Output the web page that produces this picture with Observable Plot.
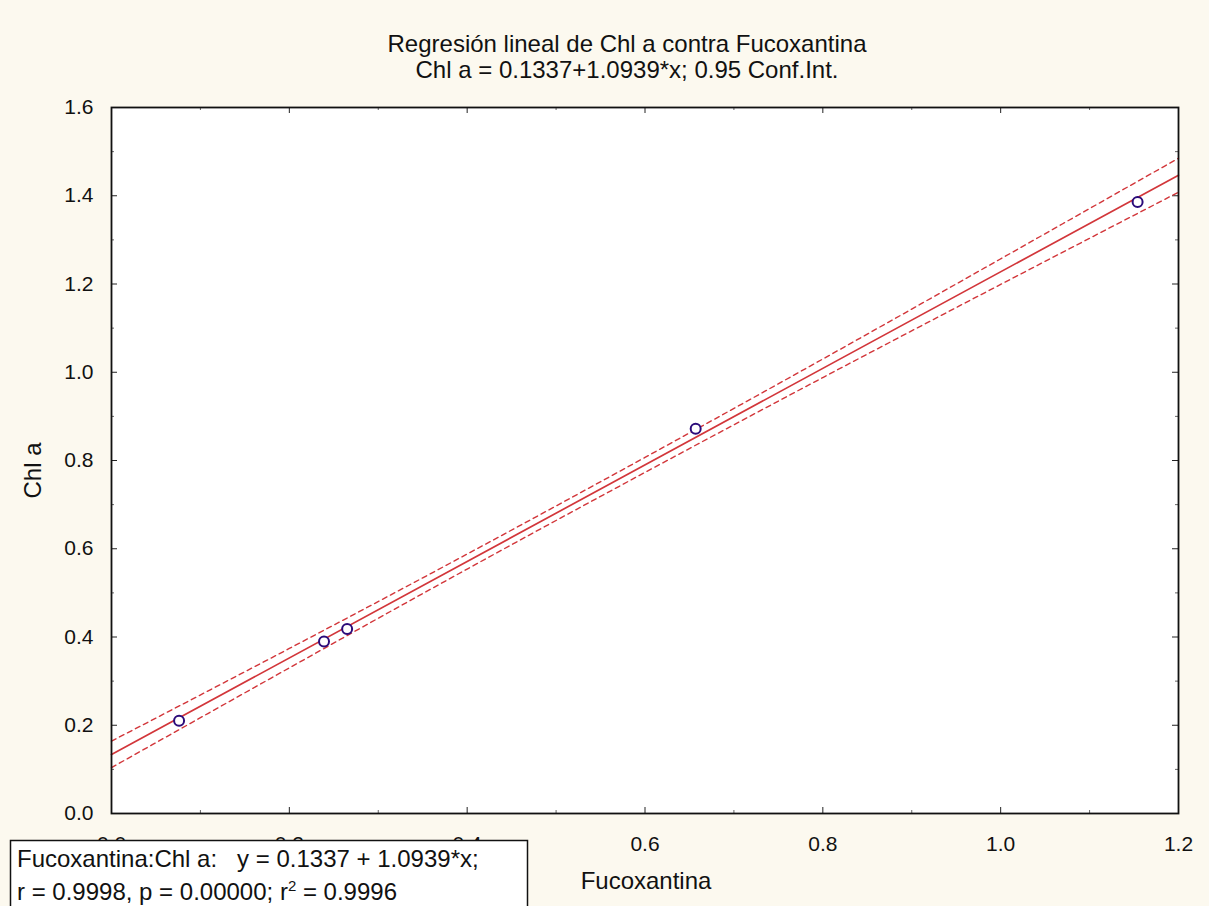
<!DOCTYPE html>
<html><head><meta charset="utf-8">
<script src="https://cdn.jsdelivr.net/npm/d3@7"></script>
<script src="https://cdn.jsdelivr.net/npm/@observablehq/plot@0.6"></script>
<style>body{margin:0;background:#fcf9ef;overflow:hidden}</style>
</head><body><div id="chart"></div>
<script>
// data
const fucoxantina = [0.076, 0.239, 0.265, 0.657, 1.154];
const chlA = [0.210, 0.390, 0.418, 0.872, 1.386];
const fitX = [0, 1.2];
const fitY = [0.1337, 1.4464];
const bandX = [0, 0.2, 0.4, 0.6, 0.8, 1.0, 1.2];
const bandUpper = [0.164, 0.374, 0.588, 0.807, 1.030, 1.257, 1.485];
const bandLower = [0.104, 0.330, 0.554, 0.773, 0.988, 1.199, 1.408];
const xTicks = [0, 0.2, 0.4, 0.6, 0.8, 1.0, 1.2];
const xMinor = [0.1, 0.3, 0.5, 0.7, 0.9, 1.1];
const yTicks = [0, 0.2, 0.4, 0.6, 0.8, 1.0, 1.2, 1.4, 1.6];
const yMinor = [0.1, 0.3, 0.5, 0.7, 0.9, 1.1, 1.3, 1.5];
const titleText = "Regresión lineal de Chl a contra Fucoxantina";
const subtitleText = "Chl a = 0.1337+1.0939*x; 0.95 Conf.Int.";
const xLabel = "Fucoxantina";
const yLabel = "Chl a";
const legendLine1 = "Fucoxantina:Chl a:   y = 0.1337 + 1.0939*x;";
const legendLine2a = "r = 0.9998, p = 0.00000; r";
const legendLine2b = " = 0.9996";

const W = 1209, H = 906;
const mL = 111, mR = 31, mT = 107, mB = 93;
const pw = W - mL - mR, ph = H - mT - mB;
const font = "'Liberation Sans', Arial, sans-serif";
const red = "#d2363a";
const big = 24, tickFs = 21;

const pts = fucoxantina.map((x, i) => ({x, y: chlA[i]}));
const fit = fitX.map((x, i) => ({x, y: fitY[i]}));
const up = bandX.map((x, i) => ({x, y: bandUpper[i]}));
const lo = bandX.map((x, i) => ({x, y: bandLower[i]}));

const chart = Plot.plot({
  width: W, height: H,
  marginLeft: mL, marginRight: mR, marginTop: mT, marginBottom: mB,
  style: {background: "#fcf9ef", fontFamily: font, fontSize: tickFs + "px", color: "#111"},
  x: {domain: [0, 1.2]},
  y: {domain: [0, 1.6]},
  marks: [
    Plot.frame({fill: "white", stroke: null}),
    Plot.axisX({ticks: xTicks, tickSize: 0, tickPadding: 23, tickFormat: d3.format(".1f"), label: null, fontSize: tickFs}),
    Plot.axisY({ticks: yTicks, tickSize: 0, tickPadding: 18, tickFormat: d3.format(".1f"), label: null, fontSize: tickFs}),
    // inward ticks on all four sides
    Plot.tickX(xTicks, {x: d => d, insetTop: ph - 6, stroke: "#222"}),
    Plot.tickX(xMinor, {x: d => d, insetTop: ph - 3, stroke: "#666"}),
    Plot.tickX(xTicks, {x: d => d, insetBottom: ph - 6, stroke: "#222"}),
    Plot.tickX(xMinor, {x: d => d, insetBottom: ph - 3, stroke: "#666"}),
    Plot.tickY(yTicks, {y: d => d, insetRight: pw - 6, stroke: "#222"}),
    Plot.tickY(yMinor, {y: d => d, insetRight: pw - 3, stroke: "#666"}),
    Plot.tickY(yTicks, {y: d => d, insetLeft: pw - 6, stroke: "#222"}),
    Plot.tickY(yMinor, {y: d => d, insetLeft: pw - 3, stroke: "#666"}),
    Plot.line(up, {x: "x", y: "y", curve: "natural", stroke: red, strokeWidth: 1.4, strokeDasharray: "5,4"}),
    Plot.line(lo, {x: "x", y: "y", curve: "natural", stroke: red, strokeWidth: 1.4, strokeDasharray: "5,4"}),
    Plot.line(fit, {x: "x", y: "y", stroke: red, strokeWidth: 1.7}),
    Plot.dot(pts, {x: "x", y: "y", r: 5, stroke: "#2b0b7a", strokeWidth: 2, fill: "white"}),
    Plot.frame({stroke: "#111", strokeWidth: 1.8}),
    Plot.text([titleText], {frameAnchor: "top", lineAnchor: "middle", dx: -18, dy: -63, fontSize: big, fill: "#111"}),
    Plot.text([subtitleText], {frameAnchor: "top", lineAnchor: "middle", dx: -18, dy: -37, fontSize: big, fill: "#111"}),
    Plot.text([yLabel], {frameAnchor: "left", textAnchor: "middle", lineAnchor: "middle", rotate: -90, dx: -78, dy: 10, fontSize: big, fill: "#111"}),
    Plot.text([xLabel], {frameAnchor: "bottom", lineAnchor: "middle", dx: 1, dy: 68, fontSize: big, fill: "#111"})
  ]
});
document.getElementById("chart").appendChild(chart);

// legend box (annotation) drawn over the lower-left corner, as in the original
const svg = d3.select(chart);
const g = svg.append("g").attr("font-family", font).attr("font-size", big)
  .attr("fill", "#111").attr("text-anchor", "start");
g.append("rect").attr("x", 10.5).attr("y", 840.5).attr("width", 517).attr("height", 80)
  .attr("fill", "white").attr("stroke", "#111").attr("stroke-width", 1.5);
g.append("text").attr("x", 17).attr("y", 867).text(legendLine1);
const t2 = g.append("text").attr("x", 17).attr("y", 900);
t2.append("tspan").text(legendLine2a);
t2.append("tspan").attr("dy", -9).attr("font-size", 15).text("2");
t2.append("tspan").attr("dy", 9).text(legendLine2b);
</script>
</body></html>
